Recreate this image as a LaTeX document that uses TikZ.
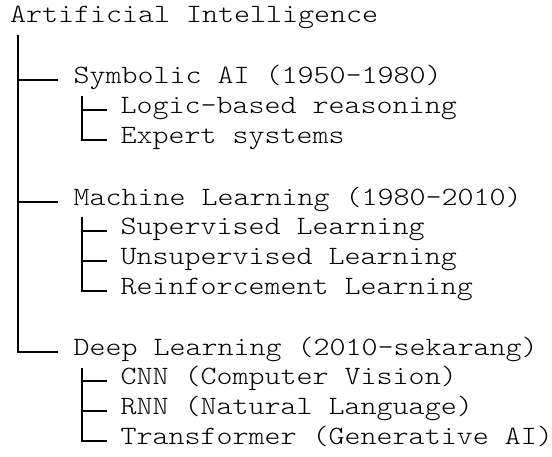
\documentclass[tikz,border=0pt]{standalone}
\usepackage{fontspec}
\newfontfamily\courlike[FakeStretch=1.155]{lmmonolt10-regular.otf}
\begin{document}
\begin{tikzpicture}[x=1pt,y=-1pt,
  txt/.style={anchor=west,inner sep=0pt,outer sep=0pt,font=\fontsize{26.4}{30}\selectfont\courlike,text height=0.8em,text depth=0.2em},
  branch/.style={line width=1.3pt,line cap=butt}]
\useasboundingbox[fill=white] (0,0) rectangle (552,456);
% nodes
\node[txt] (ai)  at (10,19)    {Artificial Intelligence};
\node[txt] (sym) at (73.5,80)  {Symbolic AI (1950–1980)};
\node[txt] (log) at (120.6,110) {Logic-based reasoning};
\node[txt] (exp) at (120.6,140) {Expert systems};
\node[txt] (ml)  at (73.5,202) {Machine Learning (1980–2010)};
\node[txt] (sup) at (120.6,231) {Supervised Learning};
\node[txt] (uns) at (120.6,261) {Unsupervised Learning};
\node[txt] (rei) at (120.6,291) {Reinforcement Learning};
\node[txt] (dl)  at (73.5,352) {Deep Learning (2010–sekarang)};
\node[txt] (cnn) at (120.6,381) {CNN (Computer Vision)};
\node[txt] (rnn) at (120.6,411) {RNN (Natural Language)};
\node[txt] (trf) at (120.6,441) {Transformer (Generative AI)};
% trunk tops
\coordinate (t0) at (18,35);
\coordinate (t1) at (82,96);
\coordinate (t2) at (82,217);
\coordinate (t3) at (82,368);
% main trunk
\draw[branch] (t0) |- ([xshift=-15.5pt]dl.west);
\draw[branch] (t0 |- sym) -- ([xshift=-15.5pt]sym.west);
\draw[branch] (t0 |- ml) -- ([xshift=-15.5pt]ml.west);
% symbolic children
\draw[branch] (t1) |- ([xshift=-13.6pt]exp.west);
\draw[branch] (t1 |- log) -- ([xshift=-13.6pt]log.west);
% ML children
\draw[branch] (t2) |- ([xshift=-13.6pt]rei.west);
\draw[branch] (t2 |- sup) -- ([xshift=-13.6pt]sup.west);
\draw[branch] (t2 |- uns) -- ([xshift=-13.6pt]uns.west);
% DL children
\draw[branch] (t3) |- ([xshift=-13.6pt]trf.west);
\draw[branch] (t3 |- cnn) -- ([xshift=-13.6pt]cnn.west);
\draw[branch] (t3 |- rnn) -- ([xshift=-13.6pt]rnn.west);
\end{tikzpicture}
\end{document}
